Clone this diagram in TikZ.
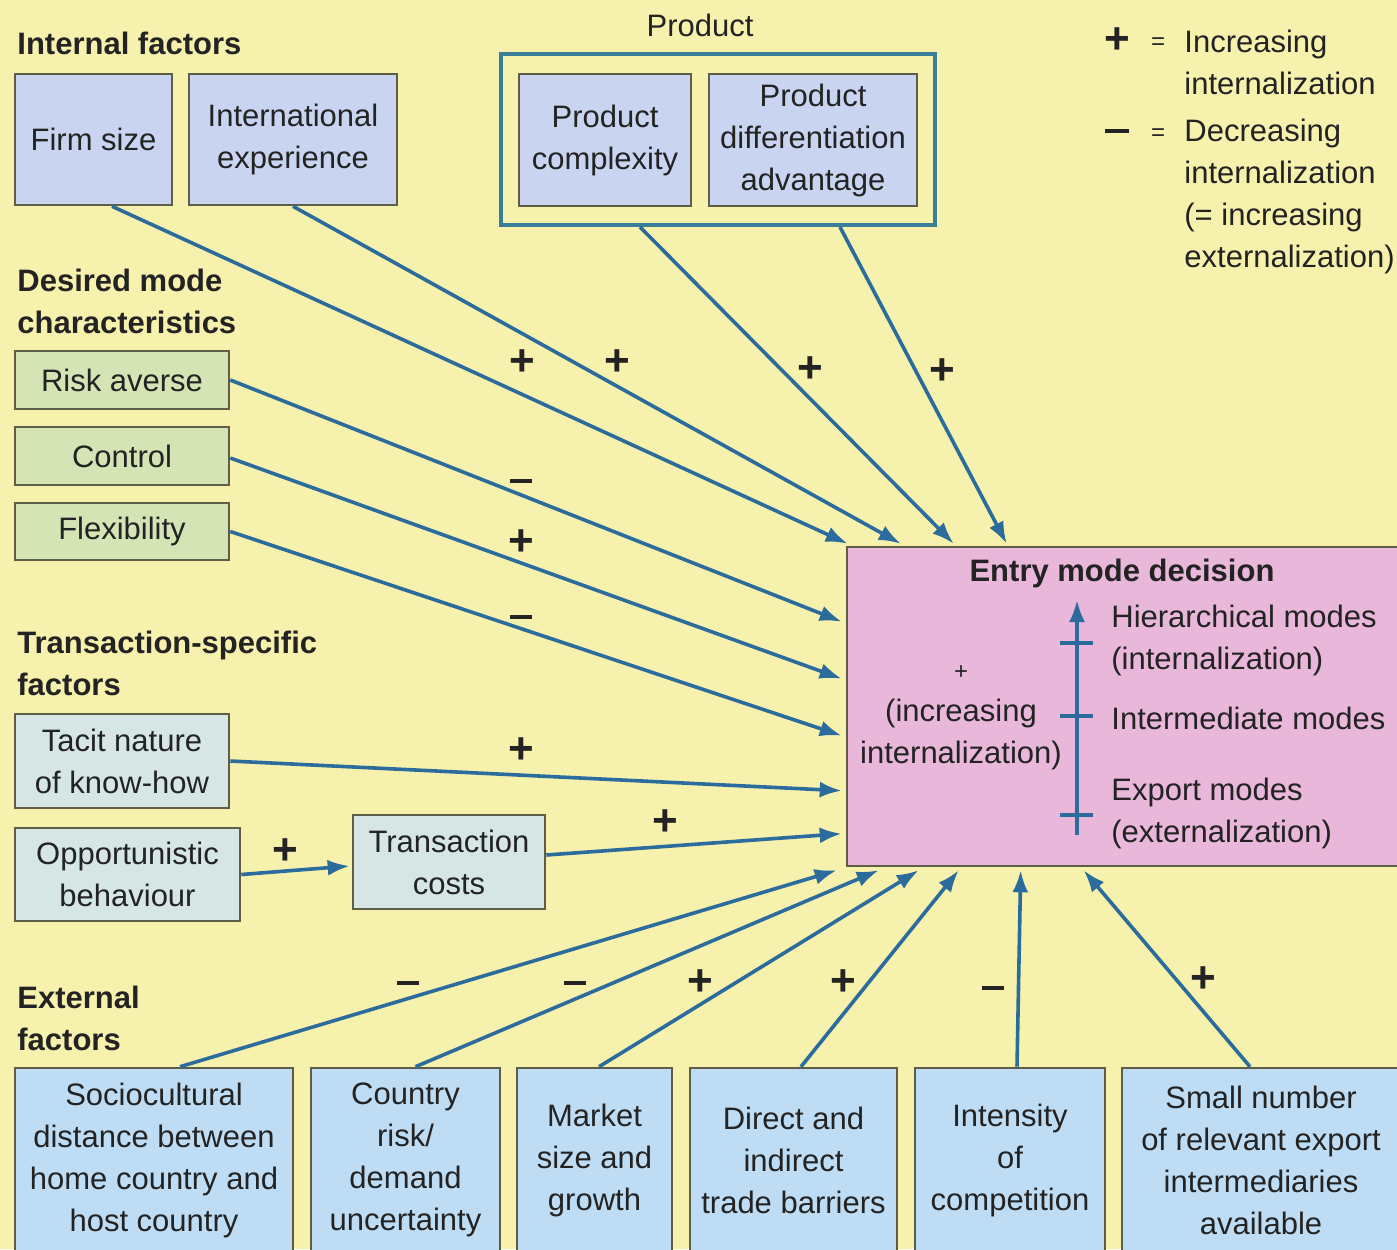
\documentclass[tikz,border=0pt]{standalone}
\usepackage{fontspec}
\setmainfont{Liberation Sans}
\usetikzlibrary{arrows.meta,calc}
\definecolor{bg}{HTML}{F6F1AC}
\definecolor{boxline}{HTML}{5E5E48}
\definecolor{txt}{HTML}{232323}
\definecolor{arrc}{HTML}{2B6C9C}
\definecolor{prodline}{HTML}{3A7F98}
\definecolor{fillA}{HTML}{C9D5F0}
\definecolor{fillG}{HTML}{D5E4B5}
\definecolor{fillT}{HTML}{D5E6E4}
\definecolor{fillB}{HTML}{BEDDF4}
\definecolor{fillE}{HTML}{E8B7DA}
\begin{document}
\begin{tikzpicture}[x=0.5pt,y=-0.5pt,
  every node/.style={text=txt, font=\fontsize{15.5}{21}\selectfont, inner sep=0pt},
  box/.style={draw=boxline, line width=1.3pt, align=center},
  head/.style={anchor=west, align=left, font=\fontsize{15.5}{21}\selectfont\bfseries},
  sgn/.style={font=\fontsize{22}{22}\selectfont\bfseries},
  arr/.style={draw=arrc, line width=1.8pt, -{Latex[length=11pt,width=8pt]}}
]
\clip (0,0) rectangle (1397,1249);
\fill[bg] (0,0) rectangle (1397,1249);

% headings
\node[head] (hint) at (17,43) {Internal factors};
\node[head] (hdes) at (17,301) {Desired mode\\characteristics};
\node[head] (htra) at (17,663.5) {Transaction-specific\\factors};
\node[head] (hext) at (17,1018.5) {External\\factors};

% internal
\node[box, fill=fillA, minimum width=78.5pt, minimum height=65.5pt] (firm) at (93.5,139.5) {Firm size};
\node[box, fill=fillA, minimum width=104pt, minimum height=65.5pt] (intl) at (293,139.5) {International\\experience};

% product
\node (prodlbl) at (700,25) {Product};
\node[draw=prodline, line width=2pt, minimum width=217pt, minimum height=85.5pt] (prod) at (718,139.5) {};
\node[box, fill=fillA, minimum width=86pt, minimum height=66pt] (pc) at (605,140) {Product\\complexity};
\node[box, fill=fillA, minimum width=104pt, minimum height=66pt] (pd) at (813,140) {Product\\differentiation\\advantage};

% legend
\node[sgn] (lp) at (1117,41) {+};
\node[font=\fontsize{12}{12}\selectfont] (le1) at (1158,44) {=};
\node[anchor=west, align=left] (lt1) at (1184,62) {Increasing\\internalization};
\node (lm) at (1117,131) {\rule{12pt}{2.4pt}};
\node[font=\fontsize{12}{12}\selectfont] (le2) at (1158,135) {=};
\node[anchor=west, align=left] (lt2) at (1184,196) {Decreasing\\internalization\\(= increasing\\externalization)};

% desired mode
\node[box, fill=fillG, minimum width=107pt, minimum height=29pt] (risk) at (122,380) {Risk averse};
\node[box, fill=fillG, minimum width=107pt, minimum height=29pt] (ctrl) at (122,456) {Control};
\node[box, fill=fillG, minimum width=107pt, minimum height=28.5pt] (flex) at (122,531.5) {Flexibility};

% transaction
\node[box, fill=fillT, minimum width=107pt, minimum height=47pt] (tacit) at (122,761) {Tacit nature\\of know-how};
\node[box, fill=fillT, minimum width=112.5pt, minimum height=46.5pt] (opp) at (127.5,874.5) {Opportunistic\\behaviour};
\node[box, fill=fillT, minimum width=96pt, minimum height=47pt] (tc) at (449,862) {Transaction\\costs};

% external
\node[box, fill=fillB, minimum width=139pt, minimum height=92pt] (soc) at (154,1160) {Sociocultural\\distance between\\home country and\\host country};
\node[box, fill=fillB, minimum width=94.5pt, minimum height=92pt] (cty) at (405.5,1160) {Country\\risk/\\demand\\uncertainty};
\node[box, fill=fillB, minimum width=77.5pt, minimum height=92pt] (mkt) at (594.5,1160) {Market\\size and\\growth};
\node[box, fill=fillB, minimum width=103.5pt, minimum height=92pt] (dir) at (793.5,1160) {Direct and\\indirect\\trade barriers};
\node[box, fill=fillB, minimum width=95pt, minimum height=92pt] (ins) at (1010,1160) {Intensity\\of\\competition};
\node[box, fill=fillB, minimum width=139pt, minimum height=92pt] (sml) at (1261,1160) {Small number\\of relevant export\\intermediaries\\available};

% entry mode box
\node[box, fill=fillE, minimum width=277.5pt, minimum height=159.5pt] (entry) at (1124.5,706.5) {};
\node[font=\fontsize{15.5}{21}\selectfont\bfseries] (etitle) at (1122,573) {Entry mode decision};
\node[font=\fontsize{12}{12}\selectfont] (eplus) at (961,673) {+};
\node[align=center] (einc) at (961,734) {(increasing\\internalization)};
\node[anchor=west, align=left] (ehier) at (1111,640) {Hierarchical modes\\(internalization)};
\node[anchor=west, align=left] (einter) at (1111,718) {Intermediate modes};
\node[anchor=west, align=left] (eexp) at (1111,813) {Export modes\\(externalization)};
\coordinate (vb) at (1077,835);
\coordinate (vt) at (1077,600);
\draw[arr] (vb) -- (vt);
\foreach \yy in {643,716,815} \draw[arrc, line width=1.8pt] (1060,\yy) -- (1093,\yy);

% target points on entry box
\coordinate (t1) at ($(entry.north west)+(2,-2)$);
\coordinate (t2) at ($(entry.north west)+(55,-2)$);
\coordinate (t3) at ($(entry.north west)+(108,-2)$);
\coordinate (t4) at ($(entry.north west)+(161,-2)$);
\coordinate (l1) at ($(entry.north west)+(-4,76)$);
\coordinate (l2) at ($(entry.north west)+(-4,133)$);
\coordinate (l3) at ($(entry.north west)+(-4,190)$);
\coordinate (l4) at ($(entry.north west)+(-4,245)$);
\coordinate (l5) at ($(entry.north west)+(-4,288)$);
\coordinate (b1) at ($(entry.south west)+(-9,3)$);
\coordinate (b2) at ($(entry.south west)+(33,3)$);
\coordinate (b3) at ($(entry.south west)+(73,3)$);
\coordinate (b4) at ($(entry.south west)+(113,3)$);
\coordinate (b5) at ($(entry.south west)+(175,3)$);
\coordinate (b6) at ($(entry.south west)+(238,3)$);

% connectors
\draw[arr] ($(firm.south)+(18.5,0)$) -- (t1);
\draw[arr] (intl.south) -- (t2);
\draw[arr] ($(prod.south)+(-78,0)$) -- (t3);
\draw[arr] ($(prod.south)+(122,0)$) -- (t4);
\draw[arr] (risk.east) -- (l1);
\draw[arr] ($(ctrl.east)+(0,2)$) -- (l2);
\draw[arr] (flex.east) -- (l3);
\draw[arr] (tacit.east) -- (l4);
\draw[arr] ($(tc.east)+(0,-7)$) -- (l5);
\draw[arr] (opp.east) -- ($(tc.west)+(-2,4)$);
\draw[arr] ($(soc.north)+(26,0)$) -- (b1);
\draw[arr] ($(cty.north)+(10,0)$) -- (b2);
\draw[arr] ($(mkt.north)+(4.5,0)$) -- (b3);
\draw[arr] ($(dir.north)+(7.5,0)$) -- (b4);
\draw[arr] ($(ins.north)+(7,0)$) -- (b5);
\draw[arr] ($(sml.north)+(-11,0)$) -- (b6);

% signs
\node[sgn] (s1) at (522,363) {+};
\node[sgn] (s2) at (617,363) {+};
\node[sgn] (s3) at (810,370) {+};
\node[sgn] (s4) at (942,372) {+};
\node (s5) at (521,481) {\rule{11pt}{2.4pt}};
\node[sgn] (s6) at (521,543) {+};
\node (s7) at (521,617) {\rule{11pt}{2.4pt}};
\node[sgn] (s8) at (521,751) {+};
\node[sgn] (s9) at (665,823) {+};
\node[sgn] (s10) at (285,852) {+};
\node (s11) at (408,983) {\rule{11pt}{2.4pt}};
\node (s12) at (575,983) {\rule{11pt}{2.4pt}};
\node[sgn] (s13) at (700,983) {+};
\node[sgn] (s14) at (843,983) {+};
\node (s15) at (993,988) {\rule{11pt}{2.4pt}};
\node[sgn] (s16) at (1203,980) {+};
\end{tikzpicture}
\end{document}
